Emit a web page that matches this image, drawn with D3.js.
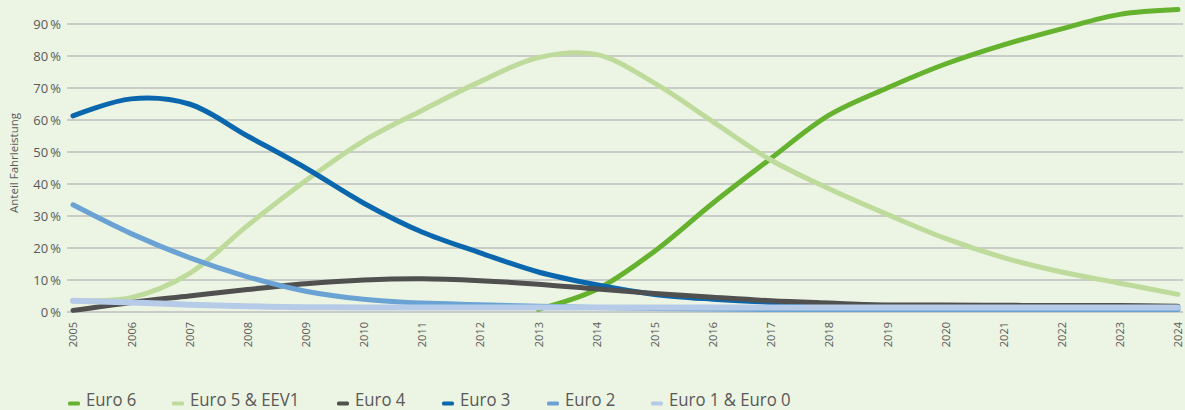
<!DOCTYPE html>
<html>
<head>
<meta charset="utf-8">
<script src="https://cdn.jsdelivr.net/npm/d3@7"></script>
<style>
	html, body { margin:0; padding:0; background:#ecf4e3; }
	svg { display:block; }
	.tick text { fill:#595959; }
</style>
</head>
<body>
<svg id="CHART" width="1185" height="410"></svg>
<script>
var years = [2005,2006,2007,2008,2009,2010,2011,2012,2013,2014,2015,2016,2017,2018,2019,2020,2021,2022,2023,2024];
var yTicks = [0,10,20,30,40,50,60,70,80,90];

var seriesNames = ["Euro 6","Euro 5 & EEV1","Euro 4","Euro 3","Euro 2","Euro 1 & Euro 0"];
var seriesColors = ["#65b22e","#bedb9c","#505050","#0a67ad","#6aa2d4","#b6cbe7"];

var euro6  = [null,null,null,null,null,null,null,null,0.8,7,19,34,48,61.5,70,77.5,83.5,88.5,93,94.5];
var euro5  = [3.5,4.5,12,27,41,53.5,63,72,79.5,80.5,71.5,59.5,47.5,38.5,30.5,23,17,12.5,9,5.5];
var euro4  = [0.5,3,5,7,8.8,10,10.4,9.8,8.7,7.2,5.8,4.6,3.5,2.8,2.2,2.2,2.1,2,2,1.8];
var euro3  = [61.3,66.6,65,55,45,34,25,18.5,12.5,8.5,5.5,4,3,2.5,2,1.8,1.7,1.6,1.5,1.5];
var euro2  = [33.5,24.5,17,11,6.5,4,2.8,2.3,1.8,1.4,1.1,0.9,0.8,0.8,0.8,0.8,0.8,0.8,0.8,0.8];
var euro1  = [3.5,3,2.3,1.8,1.5,1.4,1.4,1.4,1.4,1.4,1.4,1.4,1.4,1.4,1.4,1.4,1.4,1.4,1.4,1.4];

var seriesValues = [euro6, euro5, euro4, euro3, euro2, euro1];
// zeichnungsreihenfolge (Euro 4 liegt über Euro 3)
var drawOrder = [0,1,3,2,4,5];

var svg = d3.select("#CHART");

var x = d3.scaleLinear().domain([2005, 2024]).range([73, 1178]);
var y = d3.scaleLinear().domain([0, 90]).range([312, 24]);

/******** gitter ********/
svg.append("g")
	.attr("class","grid")
	.selectAll("line")
	.data(yTicks)
	.enter().append("line")
	.attr("x1", 67).attr("x2", 1183)
	.attr("y1", function(d){ return y(d); })
	.attr("y2", function(d){ return y(d); })
	.style("stroke", "#bfbfbf")
	.style("stroke-width", 1.5);

/******** achsen ********/
var yAxis = svg.append("g")
	.attr("class","y axis")
	.attr("transform","translate(61,0)")
	.call(d3.axisLeft(y).tickValues(yTicks).tickSize(0).tickPadding(0)
		.tickFormat(function(d){ return d + "\u2009%"; }));
yAxis.select(".domain").remove();
yAxis.selectAll("text")
	.style("font-family","'Open Sans', sans-serif")
	.style("font-size","13px");

var xAxis = svg.append("g")
	.attr("class","x axis")
	.attr("transform","translate(0,318)")
	.call(d3.axisBottom(x).tickValues(years).tickSize(0).tickFormat(d3.format("d")));
xAxis.select(".domain").remove();
xAxis.selectAll("text")
	.style("font-family","'Open Sans', sans-serif")
	.style("font-size","11px")
	.attr("text-anchor","end")
	.attr("dy","0.35em")
	.attr("transform","rotate(-90) translate(-4,0)")
	.attr("x",0).attr("y",0);

svg.append("text")
	.attr("transform","translate(18,163) rotate(-90)")
	.attr("text-anchor","middle")
	.style("font-family","'Open Sans', sans-serif")
	.style("font-size","11.5px")
	.style("fill","#595959")
	.text("Anteil Fahrleistung");

/******** linien ********/
var line = d3.line()
	.defined(function(d){ return d !== null; })
	.x(function(d, i){ return x(years[i]); })
	.y(function(d){ return y(d); })
	.curve(d3.curveCatmullRom.alpha(0.5));

svg.append("g").attr("class","lines")
	.selectAll("path")
	.data(drawOrder)
	.enter().append("path")
	.attr("d", function(k){ return line(seriesValues[k]); })
	.style("fill","none")
	.style("stroke", function(k){ return seriesColors[k]; })
	.style("stroke-width", function(k){ return k == 5 ? 6 : 5; })
	.style("stroke-linecap","round")
	.style("stroke-linejoin","round");

/******** legende ********/
var legendX = [68,172,337,442,547,651];
var legend = svg.append("g").attr("class","legend")
	.selectAll("g")
	.data(seriesNames)
	.enter().append("g")
	.attr("transform", function(d, i){ return "translate(" + legendX[i] + ",0)"; });

legend.append("rect")
	.attr("x",0).attr("y",401.5)
	.attr("width",12).attr("height",4)
	.attr("rx",1.5)
	.style("fill", function(d, i){ return seriesColors[i]; });

// schmale schrift nachbilden
legend.append("text")
	.attr("transform","translate(18,406) scale(0.93,1)")
	.style("font-family","'Open Sans', sans-serif")
	.style("font-size","18px")
	.style("fill","#595959")
	.text(function(d){ return d; });
</script>
</body>
</html>
